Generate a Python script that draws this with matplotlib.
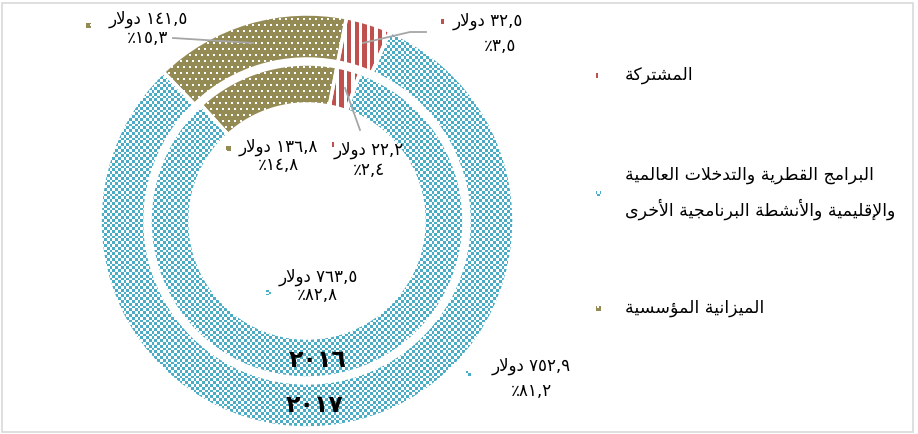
import re
import numpy as np
import matplotlib
matplotlib.use("Agg")
import matplotlib.pyplot as plt
from matplotlib.patches import Rectangle

# ---------------- data ----------------
categories = ["المشتركة",
              "البرامج القطرية والتدخلات العالمية\nوالإقليمية والأنشطة البرنامجية الأخرى",
              "الميزانية المؤسسية"]
years = ["٢٠١٦", "٢٠١٧"]
values_2016 = [22.2, 763.5, 136.8]
values_2017 = [32.5, 752.9, 141.5]
pct_2016 = [2.4, 82.8, 14.8]
pct_2017 = [3.5, 81.2, 15.3]
currency = "دولار"

colors = ["#C0504D", "#4BACC6", "#948A54"]

# ---------------- simple Arabic shaping (presentation forms + visual order) ----------------
_seq = [("ء", 1), ("آ", 2), ("أ", 2), ("ؤ", 2), ("إ", 2), ("ئ", 4), ("ا", 2), ("ب", 4),
        ("ة", 2), ("ت", 4), ("ث", 4), ("ج", 4), ("ح", 4), ("خ", 4), ("د", 2), ("ذ", 2),
        ("ر", 2), ("ز", 2), ("س", 4), ("ش", 4), ("ص", 4), ("ض", 4), ("ط", 4), ("ظ", 4),
        ("ع", 4), ("غ", 4), ("ف", 4), ("ق", 4), ("ك", 4), ("ل", 4), ("م", 4), ("ن", 4),
        ("ه", 4), ("و", 2), ("ى", 2), ("ي", 4)]
FORMS = {}
_code = 0xFE80
for _ch, _n in _seq:
    FORMS[_ch] = [_code + i for i in range(_n)]
    _code += _n
LAMALEF = {"آ": 0xFEF5, "أ": 0xFEF7, "إ": 0xFEF9, "ا": 0xFEFB}


def _shape(text):
    toks = []
    i = 0
    while i < len(text):
        ch = text[i]
        if ch == "ل" and i + 1 < len(text) and text[i + 1] in LAMALEF:
            toks.append(("LA", text[i + 1]))
            i += 2
        else:
            toks.append(("C", ch))
            i += 1

    def nf(t):
        if t[0] == "LA":
            return 2
        return len(FORMS.get(t[1], []))

    out = []
    for k, t in enumerate(toks):
        n = nf(t)
        if n < 2:
            out.append(t[1])
            continue
        prev = toks[k - 1] if k > 0 else None
        nxt = toks[k + 1] if k + 1 < len(toks) else None
        jp = prev is not None and nf(prev) == 4
        jn = n == 4 and nxt is not None and nf(nxt) >= 2
        if t[0] == "LA":
            code = LAMALEF[t[1]] + (1 if jp else 0)
        else:
            f = FORMS[t[1]]
            if jp and jn:
                code = f[3]
            elif jp:
                code = f[1]
            elif jn:
                code = f[2]
            else:
                code = f[0]
        out.append(chr(code))
    return "".join(out)


def vis(text):
    lines = []
    for line in text.split("\n"):
        s = _shape(line)[::-1]
        s = re.sub(r"[0-9\u0660-\u0669][0-9\u0660-\u0669,.]*", lambda m: m.group(0)[::-1], s)
        lines.append(s)
    return "\n".join(lines)


_AR_DIG = str.maketrans("0123456789", "٠١٢٣٤٥٦٧٨٩")


def ar_num(v):
    return f"{v:.1f}".replace(".", ",").translate(_AR_DIG)


# ---------------- figure ----------------
plt.rcParams["font.family"] = ["DejaVu Sans"]
W, H = 918, 434
fig = plt.figure(figsize=(W / 100, H / 100), dpi=100)
ax = fig.add_axes([0, 0, 1, 1])


def Y(y):
    return H - y


# textures
rr, cc = np.mgrid[0:H, 0:W]


def _rgb(h):
    h = h.lstrip("#")
    return np.array([int(h[i:i + 2], 16) / 255 for i in (0, 2, 4)])


white = np.ones(3)
cell = 2.8
teal_mask = ((rr / cell).astype(int) + (cc / cell).astype(int)) % 2 == 0
tex_teal = np.where(teal_mask[..., None], _rgb(colors[1]), white)
red_mask = (cc % 7.7) < 4.3
tex_red = np.where(red_mask[..., None], _rgb(colors[0]), white)
dot_mask = ((rr % 6) < 2) & (((cc + 3 * ((rr // 6) % 2)) % 6) < 2)
tex_olive = np.where(dot_mask[..., None], white, _rgb(colors[2]))
textures = [tex_red, tex_teal, tex_olive]


def fill_texture(patch, tex):
    im = ax.imshow(tex, extent=(0, W, 0, H), origin="upper",
                   interpolation="nearest", zorder=2)
    im.set_clip_path(patch)


cx, cy = 307, Y(221)
start = 79

rings = [(values_2017, 207, 45), (values_2016, 157, 40)]
for vals, rad, wid in rings:
    wedges, _ = ax.pie(vals, radius=rad, center=(cx, cy), startangle=start,
                       counterclock=False, colors=colors, frame=True,
                       wedgeprops=dict(width=wid, edgecolor="white", linewidth=2.5))
    for w, tex in zip(wedges, textures):
        w.set_facecolor("none")
        w.set_zorder(3)
        fill_texture(w, tex)

# ---------------- data labels ----------------
lab_fs = 12
lead_c = "#A6A6A6"


def key(x, y, idx):
    r = Rectangle((x, Y(y) - 5), 5, 5, facecolor="none", linewidth=0)
    ax.add_patch(r)
    fill_texture(r, textures[idx])


def data_label(x1, y1, x2, y2, val, pct, idx, kx, ky):
    ax.text(x1, Y(y1), vis(f"{ar_num(val)} {currency}"), ha="center", va="center",
            fontsize=lab_fs, color="black", zorder=5)
    ax.text(x2, Y(y2), vis(f"{ar_num(pct)}٪"), ha="center", va="center",
            fontsize=lab_fs, color="black", zorder=5)
    key(kx, ky, idx)


# 2017 (outer)
data_label(148, 19, 148, 38, values_2017[2], pct_2017[2], 2, 86, 23)
data_label(488, 21, 500, 46, values_2017[0], pct_2017[0], 0, 441, 19)
data_label(531, 366, 531, 391, values_2017[1], pct_2017[1], 1, 466, 371)
# 2016 (inner)
data_label(278, 147, 278, 165, values_2016[2], pct_2016[2], 2, 226, 146)
data_label(369, 150, 369, 170, values_2016[0], pct_2016[0], 0, 329, 142)
data_label(318, 277, 317, 295, values_2016[1], pct_2016[1], 1, 266, 290)

# leader lines
ax.plot([173, 253], [Y(38), Y(43)], color=lead_c, lw=1.3, zorder=4)
ax.plot([363, 410, 426], [Y(43), Y(32), Y(32)], color=lead_c, lw=1.3, zorder=4)
ax.plot([345, 360], [Y(88), Y(130)], color=lead_c, lw=1.3, zorder=4)

# year labels
ax.text(318, Y(360), years[0], ha="center", va="center", fontsize=17,
        fontweight="bold", color="black", zorder=5)
ax.text(315, Y(405), years[1], ha="center", va="center", fontsize=17,
        fontweight="bold", color="black", zorder=5)

# ---------------- legend ----------------
leg_fs = 12.5
leg_y = [75, 193, 308]
for i, (cat, ly) in enumerate(zip(categories, leg_y)):
    key(596, ly - 2, i)
    ax.text(625, Y(ly), vis(cat), ha="left", va="center", fontsize=leg_fs,
            color="black", linespacing=1.9, zorder=5)

# chart border
fig.patches.append(Rectangle((1.5 / W, 2.5 / H), (W - 7) / W, (H - 5) / H,
                             transform=fig.transFigure, fill=False,
                             edgecolor="#D9D9D9", linewidth=1.2))

ax.set_aspect("auto")
ax.set_xlim(0, W)
ax.set_ylim(0, H)
ax.axis("off")
fig.savefig("out.png", dpi=100)
